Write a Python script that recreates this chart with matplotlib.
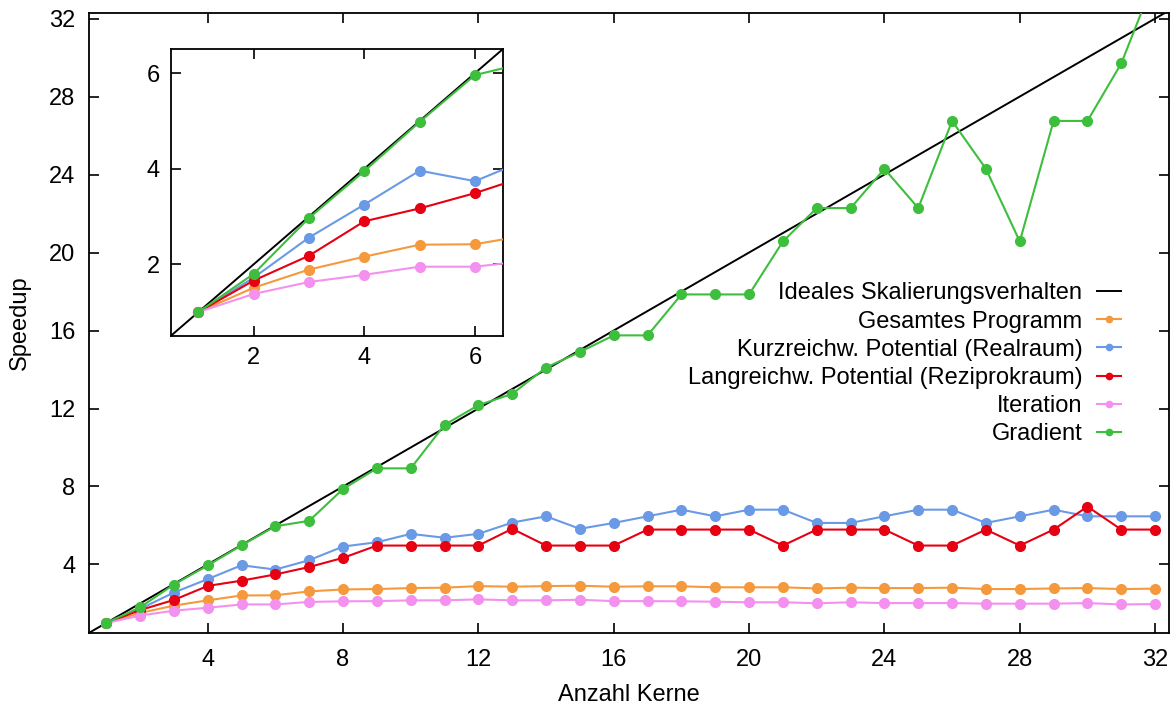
import matplotlib

matplotlib.use("Agg")
import matplotlib.pyplot as plt
from matplotlib.lines import Line2D

plt.rcParams["font.family"] = ["Liberation Sans", "DejaVu Sans"]

# Anzahl Kerne 1..32
cores = list(range(1, 33))

gesamt = [1.0, 1.51, 1.89, 2.16, 2.41, 2.42, 2.62, 2.72, 2.74, 2.79, 2.81, 2.89, 2.86, 2.89, 2.91, 2.86,
          2.88, 2.88, 2.83, 2.83, 2.83, 2.77, 2.81, 2.79, 2.79, 2.81, 2.74, 2.74, 2.77, 2.79, 2.74, 2.76]
kurz = [1.0, 1.72, 2.56, 3.25, 3.96, 3.74, 4.22, 4.92, 5.14, 5.57, 5.37, 5.57, 6.15, 6.47, 5.83, 6.13,
        6.47, 6.81, 6.47, 6.81, 6.81, 6.13, 6.13, 6.47, 6.81, 6.81, 6.13, 6.47, 6.81, 6.47, 6.47, 6.47]
lang = [1.0, 1.66, 2.18, 2.90, 3.17, 3.49, 3.87, 4.34, 4.97, 4.97, 4.97, 4.97, 5.83, 4.97, 4.97, 4.97,
        5.79, 5.79, 5.79, 5.79, 4.97, 5.79, 5.79, 5.79, 4.97, 4.97, 5.79, 4.97, 5.79, 6.97, 5.79, 5.79]
iteration = [1.0, 1.38, 1.63, 1.78, 1.95, 1.95, 2.08, 2.11, 2.12, 2.16, 2.16, 2.21, 2.16, 2.16, 2.19, 2.12,
             2.12, 2.11, 2.09, 2.06, 2.06, 2.01, 2.06, 2.02, 2.02, 2.02, 1.99, 1.99, 1.99, 2.02, 1.95, 1.97]
gradient = [1.0, 1.80, 2.97, 3.95, 4.98, 5.96, 6.24, 7.87, 8.93, 8.93, 11.16, 12.17, 12.75, 14.1, 14.9, 15.75,
            15.75, 17.85, 17.85, 17.85, 20.57, 22.28, 22.28, 24.29, 22.28, 26.75, 24.29, 20.57, 26.75, 26.75, 29.7, 34.1]

labels = [
    "Ideales Skalierungsverhalten",
    "Gesamtes Programm",
    "Kurzreichw. Potential (Realraum)",
    "Langreichw. Potential (Reziprokraum)",
    "Iteration",
    "Gradient",
]
colors = ["#F59A3C", "#6A9AE6", "#E60012", "#F490EE", "#3DBE3D"]
series = [gesamt, kurz, lang, iteration, gradient]

FS = 17

fig = plt.figure(figsize=(11.73, 7.06), dpi=100)
ax = fig.add_axes([0.0761, 0.1038, 0.9202, 0.8782])
inset = fig.add_axes([0.1455, 0.5241, 0.2830, 0.4061])


def draw(axis, lo, hi):
    axis.plot([lo, hi], [lo, hi], color="black", lw=1.4, zorder=2)
    for values, color in zip(series, colors):
        axis.plot(cores, values, color=color, lw=1.5, marker="o", ms=7, mec=color, zorder=3)
    axis.set_xlim(lo, hi)
    axis.set_ylim(lo, hi)
    for side in axis.spines.values():
        side.set_linewidth(1.3)
    axis.tick_params(direction="in", top=True, right=True, labelsize=FS, width=1.2)


draw(ax, 0.5, 32.4)
ax.set_ylim(0.5, 32.3)
ax.set_xticks(range(4, 33, 4))
ax.set_yticks(range(4, 33, 4))
ax.tick_params(length=7, pad=10)
ax.tick_params(axis="x", pad=12)
ax.set_xlabel("Anzahl Kerne", fontsize=FS, labelpad=9)
ax.set_ylabel("Speedup", fontsize=FS, labelpad=13)

draw(inset, 0.5, 6.5)
inset.set_xticks([2, 4, 6])
inset.set_yticks([2, 4, 6])
inset.tick_params(length=7, pad=8)

handles = [Line2D([], [], color="black", lw=1.4)]
for color in colors:
    handles.append(Line2D([], [], color=color, lw=1.5, marker="o", ms=4.5, mec=color))
ax.legend(handles, labels, loc="upper right", bbox_to_anchor=(0.9557, 0.600),
          bbox_transform=fig.transFigure, frameon=False, markerfirst=False,
          fontsize=FS, handlelength=1.0, handletextpad=0.64, labelspacing=0.26,
          borderpad=0, borderaxespad=0)

fig.savefig("out.png", dpi=100)
